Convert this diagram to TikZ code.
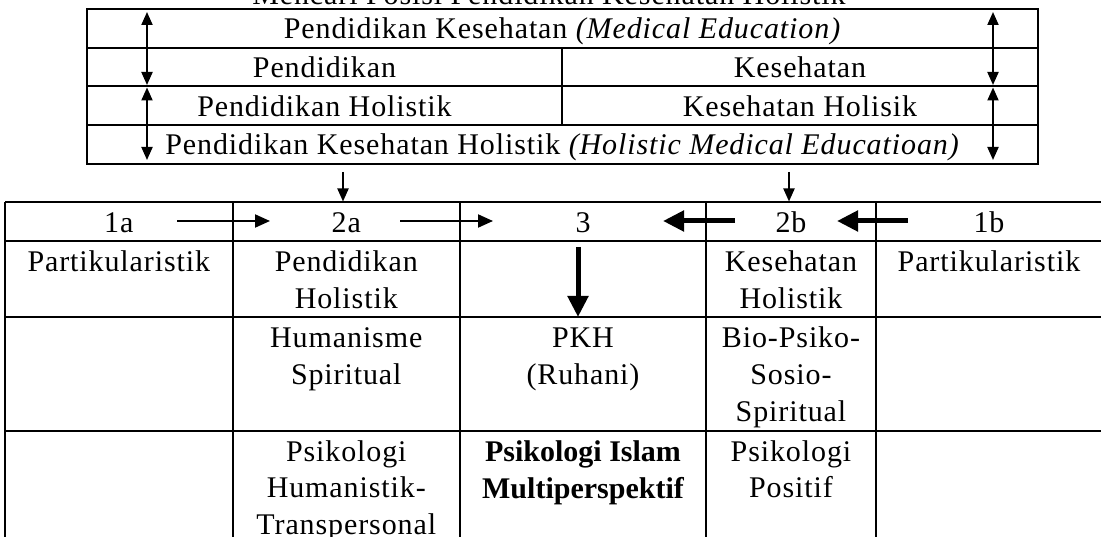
\documentclass[tikz,border=0pt]{standalone}
\usepackage{fontspec}
\setmainfont{Liberation Serif}[LetterSpace=3]
\newfontfamily\boldserif{Liberation Serif}
\usetikzlibrary{arrows.meta}
\begin{document}
\begin{tikzpicture}[x=1pt,y=-1pt,
  rule/.style={line width=2pt},
  txt/.style={anchor=base,inner sep=0pt,font=\fontsize{30}{36}\selectfont},
  boldtxt/.style={anchor=base,inner sep=0pt,font=\fontsize{30}{36}\boldserif\bfseries},
  dbl/.style={line width=2pt,{Triangle[length=13pt,width=11pt]}-{Triangle[length=13pt,width=11pt]}},
  downarr/.style={line width=2pt,-{Triangle[length=13pt,width=11pt]}},
  thinarr/.style={line width=2pt,-{Triangle[length=15pt,width=13pt]}},
  thickarr/.style={line width=5pt,-{Triangle[length=21pt,width=20pt]}}]
\useasboundingbox (0,0) rectangle (1101,537);
\clip (0,0) rectangle (1101,537);

% title (cut off at the top)
\node[txt] (title) at (549,4.5) {Mencari Posisi Pendidikan Kesehatan Holistik};

% ---------- top table ----------
\draw[rule] (87,9) rectangle (1038,163.6);
\draw[rule] (87,47.6) -- (1038,47.6);
\draw[rule] (87,86.3) -- (1038,86.3);
\draw[rule] (87,125) -- (1038,125);
\draw[rule] (562,47.6) -- (562,125);

\node[txt] (t1) at (562.5,39) {Pendidikan Kesehatan \textit{(Medical Education)}};
\node[txt] (t2a) at (324.5,78) {Pendidikan};
\node[txt] (t2b) at (800,78) {Kesehatan};
\node[txt] (t3a) at (324.5,116.5) {Pendidikan Holistik};
\node[txt] (t3b) at (800,116.5) {Kesehatan Holisik};
\node[txt] (t4) at (562.5,155) {Pendidikan Kesehatan Holistik \textit{(Holistic Medical Educatioan)}};

\coordinate (la1) at (147,12);
\coordinate (la2) at (147,85);
\coordinate (la3) at (147,87.5);
\coordinate (la4) at (147,160);
\coordinate (ra1) at (993,12);
\coordinate (ra2) at (993,85);
\coordinate (ra3) at (993,87.5);
\coordinate (ra4) at (993,160);
\draw[dbl] (la1) -- (la2);
\draw[dbl] (la3) -- (la4);
\draw[dbl] (ra1) -- (ra2);
\draw[dbl] (ra3) -- (ra4);

% arrows between the tables
\coordinate (d1s) at (343,172);
\coordinate (d1e) at (343,201.5);
\coordinate (d2s) at (789,172);
\coordinate (d2e) at (789,201.5);
\draw[downarr] (d1s) -- (d1e);
\draw[downarr] (d2s) -- (d2e);

% ---------- bottom table ----------
\foreach \yy in {202.3,240.7,316.7,430.7}
  \draw[rule] (5,\yy) -- (1101,\yy);
\foreach \xx in {5,232.7,460,706,876}
  \draw[rule] (\xx,202.3) -- (\xx,540);

% row 1
\node[txt] (h1a) at (118.8,232.3) {1a};
\node[txt] (h2a) at (346.3,232.3) {2a};
\node[txt] (h3) at (583,232.3) {3};
\node[txt] (h2b) at (791,232.3) {2b};
\node[txt] (h1b) at (989,232.3) {1b};

\coordinate (a1s) at (177,221);
\coordinate (a1e) at (270,221);
\coordinate (a2s) at (400,221);
\coordinate (a2e) at (493,221);
\coordinate (b1s) at (735,221);
\coordinate (b1e) at (663,221);
\coordinate (b2s) at (908,221);
\coordinate (b2e) at (837,221);
\draw[thinarr] (a1s) -- (a1e);
\draw[thinarr] (a2s) -- (a2e);
\draw[thickarr] (b1s) -- (b1e);
\draw[thickarr] (b2s) -- (b2e);

% row 2
\node[txt] (p1) at (118.8,271.7) {Partikularistik};
\node[txt] (p2a) at (346.3,271.7) {Pendidikan};
\node[txt] (p2b) at (346.3,308.3) {Holistik};
\node[txt] (p4a) at (791,271.7) {Kesehatan};
\node[txt] (p4b) at (791,308.3) {Holistik};
\node[txt] (p5) at (989,271.7) {Partikularistik};

\coordinate (c3s) at (578,247);
\coordinate (c3e) at (578,317);
\draw[thickarr] (c3s) -- (c3e);

% row 3
\node[txt] (q2a) at (346.3,347.7) {Humanisme};
\node[txt] (q2b) at (346.3,384.3) {Spiritual};
\node[txt] (q3a) at (583,347.7) {PKH};
\node[txt] (q3b) at (583,384.3) {(Ruhani)};
\node[txt] (q4a) at (791,347.7) {Bio-Psiko-};
\node[txt] (q4b) at (791,384.3) {Sosio-};
\node[txt] (q4c) at (791,421) {Spiritual};

% row 4
\node[txt] (r2a) at (346.3,461) {Psikologi};
\node[txt] (r2b) at (346.3,497.6) {Humanistik-};
\node[txt] (r2c) at (346.3,534.2) {Transpersonal};
\node[boldtxt] (r3a) at (583,461.5) {Psikologi Islam};
\node[boldtxt] (r3b) at (583,498.5) {Multiperspektif};
\node[txt] (r4a) at (791,461) {Psikologi};
\node[txt] (r4b) at (791,497.6) {Positif};
\end{tikzpicture}
\end{document}
